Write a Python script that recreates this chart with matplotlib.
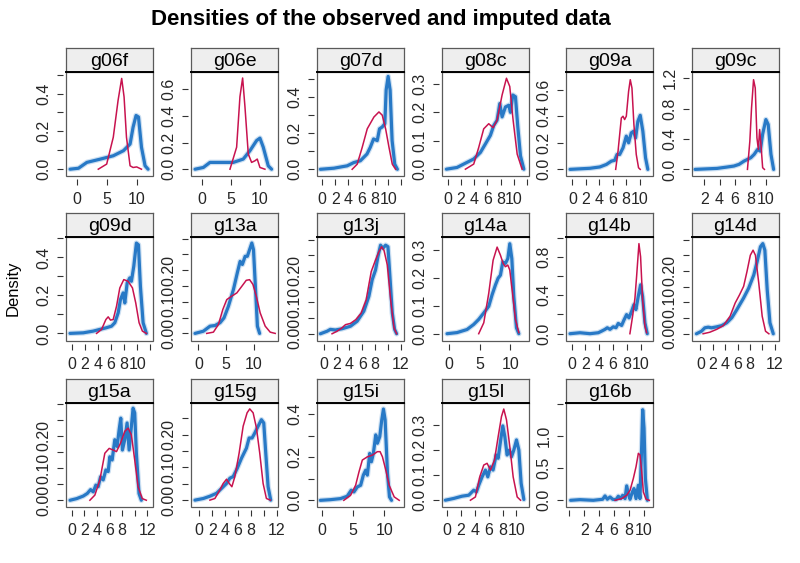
import matplotlib
matplotlib.use('Agg')
import matplotlib.pyplot as plt
from matplotlib.patches import Rectangle

plt.rcParams['font.family'] = ['Liberation Sans', 'DejaVu Sans']

# ---------------- data ----------------
variables = ['g06f', 'g06e', 'g07d', 'g08c', 'g09a', 'g09c',
             'g09d', 'g13a', 'g13j', 'g14a', 'g14b', 'g14d',
             'g15a', 'g15g', 'g15i', 'g15l', 'g16b']

g06f_obs_x = [-1.1, 0.3, 1.7, 3.9, 6.1, 7.8, 8.9, 9.4, 9.9, 10.3, 10.8, 11.4, 11.9]
g06f_obs_y = [0, 0.005, 0.036, 0.053, 0.071, 0.098, 0.133, 0.222, 0.284, 0.276, 0.116, 0.018, 0]
g06f_imp_x = [3.6, 5.0, 6.1, 6.9, 7.5, 7.9, 8.3, 8.9, 9.4, 10.0, 10.8]
g06f_imp_y = [0, 0.027, 0.169, 0.364, 0.48, 0.382, 0.169, 0.018, 0.009, 0.012, 0]

g06e_obs_x = [-1.14, 0.29, 1.43, 5.43, 7.14, 8.29, 9.43, 10.0, 10.57, 11.43, 12.0]
g06e_obs_y = [0, 0.013, 0.051, 0.051, 0.076, 0.139, 0.215, 0.233, 0.165, 0.025, 0]
g06e_imp_x = [4.86, 6.0, 6.57, 7.03, 7.43, 8.0, 8.57, 9.14, 9.54, 10.0, 10.86]
g06e_imp_y = [0, 0.165, 0.544, 0.684, 0.468, 0.114, 0.051, 0.063, 0.076, 0.013, 0]

g07d_obs_x = [-0.25, 1.8, 3.8, 4.8, 5.8, 6.8, 7.3, 7.8, 8.35, 8.7, 9.1, 9.5, 9.7, 10.0, 10.3, 10.6, 11.0, 11.4]
g07d_obs_y = [0, 0.006, 0.019, 0.037, 0.047, 0.084, 0.121, 0.167, 0.158, 0.223, 0.233, 0.251, 0.437, 0.512, 0.437, 0.158, 0.028, 0]
g07d_imp_x = [4.56, 5.32, 6.08, 6.84, 7.85, 8.61, 9.11, 9.62, 10.13, 10.63, 11.14]
g07d_imp_y = [0, 0.028, 0.121, 0.223, 0.288, 0.316, 0.298, 0.223, 0.121, 0.028, 0]

g08c_obs_x = [-0.2, 1.41, 2.93, 3.94, 4.95, 5.71, 6.46, 6.97, 7.47, 7.88, 8.23, 8.74, 9.24, 9.49, 9.85, 10.25, 10.61, 11.01, 11.52]
g08c_obs_y = [0, 0.006, 0.024, 0.036, 0.059, 0.089, 0.119, 0.154, 0.172, 0.231, 0.184, 0.219, 0.225, 0.2, 0.261, 0.255, 0.148, 0.047, 0]
g08c_imp_x = [2.68, 3.94, 4.7, 5.45, 6.21, 6.87, 7.47, 8.23, 8.89, 9.39, 9.9, 10.51, 11.26]
g08c_imp_y = [0, 0.018, 0.077, 0.142, 0.16, 0.146, 0.172, 0.261, 0.32, 0.291, 0.172, 0.053, 0]

g09a_obs_x = [-0.34, 2.61, 4.09, 5.07, 5.81, 6.3, 6.65, 7.04, 7.54, 8.03, 8.37, 8.77, 9.11, 9.41, 9.75, 10.1, 10.49, 10.89, 11.23]
g09a_obs_y = [0, 0.008, 0.018, 0.037, 0.062, 0.068, 0.112, 0.112, 0.162, 0.25, 0.2, 0.275, 0.287, 0.237, 0.362, 0.407, 0.287, 0.087, 0]
g09a_imp_x = [6.45, 6.8, 7.29, 7.54, 7.78, 8.03, 8.37, 8.62, 8.87, 9.16, 9.51, 9.85, 10.1]
g09a_imp_y = [0, 0.137, 0.387, 0.4, 0.375, 0.4, 0.587, 0.675, 0.612, 0.337, 0.112, 0.012, 0]

g09c_obs_x = [0.82, 3.67, 4.98, 5.86, 6.52, 7.17, 7.61, 8.04, 8.48, 8.92, 9.27, 9.57, 10.0, 10.3, 10.66, 11.0]
g09c_obs_y = [0, 0.013, 0.031, 0.044, 0.066, 0.109, 0.131, 0.153, 0.197, 0.262, 0.24, 0.459, 0.655, 0.59, 0.197, 0]
g09c_imp_x = [7.61, 7.92, 8.14, 8.4, 8.62, 8.84, 9.02, 9.19, 9.36, 9.58, 9.81]
g09c_imp_y = [0, 0.371, 0.808, 1.179, 1.07, 0.415, 0.262, 0.524, 0.328, 0.022, 0]

g09d_obs_x = [-0.25, 1.77, 3.29, 4.3, 5.32, 6.08, 6.58, 7.09, 7.44, 7.85, 8.1, 8.46, 8.86, 9.11, 9.47, 9.87, 10.18, 10.48, 10.89, 11.39]
g09d_obs_y = [0, 0.003, 0.012, 0.021, 0.03, 0.038, 0.056, 0.108, 0.178, 0.213, 0.16, 0.265, 0.292, 0.274, 0.353, 0.475, 0.466, 0.248, 0.056, 0]
g09d_imp_x = [3.8, 4.56, 5.22, 5.57, 5.92, 6.33, 6.84, 7.34, 7.95, 8.61, 9.27, 9.77, 10.28, 10.78, 11.39]
g09d_imp_y = [0, 0.021, 0.073, 0.087, 0.07, 0.073, 0.143, 0.239, 0.283, 0.274, 0.239, 0.16, 0.056, 0.012, 0]

g13a_obs_x = [-0.6, 0.9, 2.1, 3.0, 3.9, 4.6, 5.4, 6.3, 7.0, 7.5, 7.9, 8.4, 8.8, 9.2, 9.6, 9.9, 10.3, 10.6, 11.0]
g13a_obs_y = [0, 0.007, 0.023, 0.025, 0.034, 0.049, 0.086, 0.139, 0.192, 0.228, 0.218, 0.244, 0.244, 0.265, 0.286, 0.265, 0.128, 0.023, 0]
g13a_imp_x = [1.5, 2.7, 3.6, 4.4, 5.1, 6.0, 6.9, 7.8, 8.6, 9.2, 9.8, 10.4, 11.1, 12.0, 12.9, 13.8]
g13a_imp_y = [0, 0.004, 0.028, 0.076, 0.107, 0.118, 0.128, 0.149, 0.168, 0.17, 0.155, 0.118, 0.065, 0.023, 0.004, 0]

g13j_obs_x = [-0.52, 0.52, 1.04, 1.82, 2.86, 4.17, 5.21, 6.25, 7.03, 7.55, 8.07, 8.44, 8.85, 9.22, 9.64, 10.0, 10.31, 10.68, 11.04, 11.35]
g13j_obs_y = [0, 0.008, 0.014, 0.012, 0.016, 0.024, 0.04, 0.072, 0.119, 0.172, 0.203, 0.245, 0.282, 0.272, 0.282, 0.277, 0.182, 0.066, 0.014, 0]
g13j_imp_x = [1.3, 2.08, 2.86, 3.39, 4.17, 5.0, 5.83, 6.61, 7.4, 8.07, 8.59, 9.01, 9.38, 9.9, 10.42, 10.94, 11.35]
g13j_imp_y = [0, 0.008, 0.019, 0.029, 0.033, 0.045, 0.066, 0.108, 0.198, 0.235, 0.261, 0.277, 0.266, 0.219, 0.108, 0.019, 0]

g14a_obs_x = [-0.27, 1.35, 2.97, 4.05, 4.86, 5.68, 6.49, 7.03, 7.57, 8.0, 8.38, 8.76, 9.19, 9.57, 9.89, 10.22, 10.54, 10.97, 11.35]
g14a_obs_y = [0, 0.004, 0.015, 0.033, 0.051, 0.074, 0.098, 0.139, 0.174, 0.198, 0.209, 0.256, 0.251, 0.268, 0.321, 0.268, 0.133, 0.021, 0]
g14a_imp_x = [4.86, 5.68, 6.49, 7.19, 7.84, 8.38, 8.81, 9.19, 9.57, 9.89, 10.27, 10.81, 11.35]
g14a_imp_y = [0, 0.039, 0.145, 0.262, 0.309, 0.28, 0.251, 0.239, 0.245, 0.227, 0.156, 0.051, 0.004]

g14b_obs_x = [-0.24, 1.21, 2.66, 3.86, 4.35, 4.83, 5.17, 5.56, 6.04, 6.43, 6.76, 7.25, 7.58, 7.97, 8.31, 8.7, 9.03, 9.32, 9.66, 10.0, 10.29, 10.63, 10.97]
g14b_obs_y = [0, 0.01, 0, 0.01, 0.027, 0.045, 0.062, 0.045, 0.072, 0.062, 0.107, 0.086, 0.141, 0.199, 0.165, 0.234, 0.302, 0.251, 0.388, 0.509, 0.388, 0.113, 0]
g14b_imp_x = [8.45, 8.84, 9.18, 9.42, 9.76, 10.0, 10.29, 10.63, 10.87]
g14b_imp_y = [0, 0.182, 0.371, 0.595, 0.938, 0.801, 0.354, 0.079, 0.01]

g14d_obs_x = [-0.65, 0.16, 0.71, 1.25, 1.79, 2.61, 3.42, 4.24, 5.05, 5.87, 6.96, 7.77, 8.59, 9.13, 9.67, 10.05, 10.38, 10.76, 11.2, 11.74]
g14d_obs_y = [0, 0.008, 0.019, 0.021, 0.019, 0.022, 0.026, 0.035, 0.051, 0.077, 0.114, 0.145, 0.187, 0.229, 0.277, 0.287, 0.266, 0.14, 0.035, 0]
g14d_imp_x = [0.43, 1.52, 2.61, 3.7, 4.78, 5.6, 6.3, 6.96, 7.5, 8.04, 8.48, 8.86, 9.4, 9.95, 10.49, 11.03]
g14d_imp_y = [0, 0.005, 0.014, 0.026, 0.056, 0.098, 0.124, 0.151, 0.198, 0.25, 0.266, 0.25, 0.161, 0.056, 0.008, 0]

g15a_obs_x = [-0.26, 0.79, 1.84, 2.47, 3.0, 3.42, 3.84, 4.21, 4.58, 5.0, 5.42, 5.79, 6.05, 6.42, 6.84, 7.21, 7.53, 7.79, 8.05, 8.42, 8.79, 9.11, 9.47, 9.74, 10.0, 10.26, 10.68, 11.05]
g15a_obs_y = [0, 0.005, 0.013, 0.021, 0.033, 0.026, 0.047, 0.042, 0.073, 0.063, 0.094, 0.089, 0.135, 0.125, 0.188, 0.167, 0.219, 0.255, 0.156, 0.188, 0.24, 0.156, 0.229, 0.286, 0.271, 0.146, 0.021, 0]
g15a_imp_x = [2.89, 3.68, 4.47, 5.26, 5.95, 6.58, 7.11, 7.74, 8.42, 8.95, 9.47, 10.0, 10.53, 11.21, 11.84]
g15a_imp_y = [0, 0.016, 0.063, 0.146, 0.161, 0.156, 0.151, 0.177, 0.214, 0.224, 0.203, 0.125, 0.042, 0.005, 0]

g15g_obs_x = [-0.67, 0.62, 1.64, 2.67, 3.44, 4.21, 4.72, 5.23, 5.85, 6.51, 7.28, 7.69, 8.15, 8.56, 9.08, 9.59, 9.95, 10.26, 10.62, 11.03]
g15g_obs_y = [0, 0.005, 0.012, 0.021, 0.036, 0.051, 0.067, 0.072, 0.097, 0.128, 0.159, 0.19, 0.19, 0.205, 0.226, 0.246, 0.236, 0.144, 0.041, 0]
g15g_imp_x = [1.64, 2.41, 3.18, 3.69, 4.21, 4.62, 5.03, 5.49, 6.15, 6.77, 7.38, 7.79, 8.31, 8.82, 9.33, 9.85, 10.36, 10.97]
g15g_imp_y = [0, 0.005, 0.031, 0.051, 0.064, 0.051, 0.041, 0.072, 0.144, 0.226, 0.267, 0.279, 0.267, 0.221, 0.144, 0.051, 0.005, 0]

g15i_obs_x = [-0.27, 1.35, 2.97, 4.05, 4.7, 5.14, 5.68, 6.22, 6.65, 7.03, 7.3, 7.68, 7.95, 8.27, 8.65, 8.92, 9.3, 9.62, 9.89, 10.16, 10.54, 10.86, 11.19]
g15i_obs_y = [0, 0.003, 0.008, 0.019, 0.047, 0.039, 0.062, 0.07, 0.117, 0.14, 0.117, 0.218, 0.179, 0.218, 0.304, 0.265, 0.296, 0.374, 0.424, 0.374, 0.125, 0.016, 0]
g15i_imp_x = [3.51, 4.59, 5.41, 5.95, 6.49, 7.3, 8.11, 8.92, 9.35, 9.73, 10.27, 10.81, 11.62, 12.43]
g15i_imp_y = [0, 0.023, 0.07, 0.132, 0.187, 0.202, 0.21, 0.226, 0.226, 0.202, 0.14, 0.07, 0.016, 0]

g15l_obs_x = [-0.24, 0.96, 2.16, 3.13, 3.85, 4.23, 4.57, 5.05, 5.53, 5.87, 6.25, 6.63, 7.07, 7.36, 7.69, 8.03, 8.32, 8.65, 8.99, 9.28, 9.62, 10.0, 10.34, 10.67, 11.06]
g15l_obs_y = [0, 0.007, 0.016, 0.02, 0.04, 0.033, 0.06, 0.093, 0.12, 0.093, 0.133, 0.12, 0.18, 0.167, 0.233, 0.296, 0.253, 0.18, 0.2, 0.173, 0.2, 0.24, 0.2, 0.067, 0.003]
g15l_imp_x = [3.37, 4.09, 4.71, 5.29, 5.77, 6.25, 6.83, 7.36, 7.84, 8.17, 8.56, 9.04, 9.52, 10.1, 10.58]
g15l_imp_y = [0, 0.013, 0.093, 0.14, 0.147, 0.12, 0.16, 0.253, 0.333, 0.363, 0.32, 0.213, 0.093, 0.013, 0]

g16b_obs_x = [0.18, 1.43, 3.21, 4.46, 4.78, 5.09, 5.45, 5.8, 6.25, 6.56, 6.87, 7.14, 7.46, 7.68, 7.95, 8.13, 8.44, 8.66, 8.93, 9.24, 9.46, 9.69, 9.82, 10.0, 10.18, 10.45]
g16b_obs_y = [0, 0.01, 0, 0.016, 0.068, 0.016, 0.052, 0.016, 0.01, 0.063, 0.026, 0.078, 0.026, 0.224, 0.078, 0.016, 0.13, 0.182, 0.026, 0.234, 0.026, 0.859, 1.406, 1.12, 0.339, 0]
g16b_imp_x = [6.12, 7.01, 7.68, 8.13, 8.57, 8.93, 9.24, 9.46, 9.69, 9.91, 10.27, 10.71]
g16b_imp_y = [0, 0.026, 0.078, 0.156, 0.339, 0.521, 0.729, 0.703, 0.443, 0.13, 0.016, 0]

# axis ticks and the tick labels that are shown (others blank)
x_ticks = {
    'g06f': ([0, 5, 10], ['0', '5', '10']),
    'g06e': ([0, 5, 10], ['0', '5', '10']),
    'g07d': ([0, 2, 4, 6, 8, 10, 12], ['0', '2', '4', '6', '8', '10', '']),
    'g08c': ([0, 2, 4, 6, 8, 10, 12], ['0', '2', '4', '6', '8', '10', '']),
    'g09a': ([0, 2, 4, 6, 8, 10], ['0', '2', '4', '6', '8', '10']),
    'g09c': ([2, 4, 6, 8, 10], ['2', '4', '6', '8', '10']),
    'g09d': ([0, 2, 4, 6, 8, 10, 12], ['0', '2', '4', '6', '8', '10', '']),
    'g13a': ([0, 5, 10], ['0', '5', '10']),
    'g13j': ([0, 2, 4, 6, 8, 10, 12], ['0', '2', '4', '6', '8', '', '12']),
    'g14a': ([0, 5, 10], ['0', '5', '10']),
    'g14b': ([0, 2, 4, 6, 8, 10], ['0', '2', '4', '6', '8', '10']),
    'g14d': ([0, 2, 4, 6, 8, 10, 12], ['0', '2', '4', '6', '8', '', '12']),
    'g15a': ([0, 2, 4, 6, 8, 10, 12], ['0', '2', '4', '6', '8', '', '12']),
    'g15g': ([0, 2, 4, 6, 8, 10, 12], ['0', '2', '4', '6', '8', '', '12']),
    'g15i': ([0, 5, 10], ['0', '5', '10']),
    'g15l': ([0, 2, 4, 6, 8, 10], ['0', '2', '4', '6', '8', '10']),
    'g16b': ([0, 2, 4, 6, 8, 10], ['', '2', '4', '6', '8', '10']),
}
y_ticks = {
    'g06f': ([0, 0.1, 0.2, 0.3, 0.4, 0.5], ['0.0', '', '0.2', '', '0.4', '']),
    'g06e': ([0, 0.2, 0.4, 0.6], ['0.0', '0.2', '0.4', '0.6']),
    'g07d': ([0, 0.1, 0.2, 0.3, 0.4, 0.5], ['0.0', '', '0.2', '', '0.4', '']),
    'g08c': ([0, 0.1, 0.2, 0.3], ['0.0', '0.1', '0.2', '0.3']),
    'g09a': ([0, 0.2, 0.4, 0.6], ['0.0', '0.2', '0.4', '0.6']),
    'g09c': ([0, 0.4, 0.8, 1.2], ['0.0', '0.4', '0.8', '1.2']),
    'g09d': ([0, 0.1, 0.2, 0.3, 0.4, 0.5], ['0.0', '', '0.2', '', '0.4', '']),
    'g13a': ([0, 0.05, 0.1, 0.15, 0.2, 0.25, 0.3], ['0.00', '', '0.10', '', '0.20', '', '']),
    'g13j': ([0, 0.05, 0.1, 0.15, 0.2, 0.25, 0.3], ['0.00', '', '0.10', '', '0.20', '', '']),
    'g14a': ([0, 0.1, 0.2, 0.3], ['0.0', '0.1', '0.2', '0.3']),
    'g14b': ([0, 0.2, 0.4, 0.6, 0.8, 1.0], ['0.0', '', '0.4', '', '0.8', '']),
    'g14d': ([0, 0.05, 0.1, 0.15, 0.2, 0.25, 0.3], ['0.00', '', '0.10', '', '0.20', '', '']),
    'g15a': ([0, 0.05, 0.1, 0.15, 0.2, 0.25, 0.3], ['0.00', '', '0.10', '', '0.20', '', '']),
    'g15g': ([0, 0.05, 0.1, 0.15, 0.2, 0.25], ['0.00', '', '0.10', '', '0.20', '']),
    'g15i': ([0, 0.1, 0.2, 0.3, 0.4], ['0.0', '', '0.2', '', '0.4']),
    'g15l': ([0, 0.1, 0.2, 0.3], ['0.0', '0.1', '0.2', '0.3']),
    'g16b': ([0, 0.5, 1.0, 1.5], ['0.0', '0.5', '1.0', '']),
}

# ---------------- layout ----------------
limits = {
    'g06f': ((-1.78, 12.72), (-0.036, 0.514)),
    'g06e': ((-1.83, 13.1), (-0.051, 0.729)),
    'g07d': ((-0.76, 12.4), (-0.037, 0.536)),
    'g08c': ((-0.86, 12.3), (-0.024, 0.342)),
    'g09a': ((-0.94, 12.0), (-0.05, 0.733)),
    'g09c': ((0.42, 11.7), (-0.087, 1.28)),
    'g09d': ((-0.86, 12.4), (-0.04, 0.507)),
    'g13a': ((-1.32, 14.3), (-0.024, 0.305)),
    'g13j': ((-1.04, 12.5), (-0.023, 0.308)),
    'g14a': ((-1.08, 13.0), (-0.026, 0.345)),
    'g14b': ((-0.82, 11.8), (-0.076, 1.007)),
    'g14d': ((-1.36, 12.66), (-0.023, 0.308)),
    'g15a': ((-0.9, 12.9), (-0.021, 0.302)),
    'g15g': ((-1.28, 12.15), (-0.021, 0.297)),
    'g15i': ((-0.81, 13.2), (-0.031, 0.452)),
    'g15l': ((-0.72, 11.8), (-0.027, 0.387)),
    'g16b': ((-0.44, 11.2), (-0.104, 1.51)),
}

g = globals()
series = {v: (g[v + '_obs_x'], g[v + '_obs_y'], g[v + '_imp_x'], g[v + '_imp_y'])
          for v in variables}

W, H = 800, 563
fig = plt.figure(figsize=(8, 5.63), dpi=100)
fig.patch.set_facecolor('white')

col_left = [66, 191, 317, 442, 566, 692]
row_top = [72, 237, 403]
pw, ph, sh = 87, 104, 24

BLUE = '#1f74c4'
RED = '#c8134f'
BOX = '#5a5a5a'
TXT = '#262626'

for i, v in enumerate(variables):
    r, c = divmod(i, 6)
    l, t = col_left[c], row_top[r]
    ax = fig.add_axes([l / W, 1 - (t + ph) / H, pw / W, ph / H])
    ox, oy, ix, iy = series[v]
    ax.plot(ox, oy, color=BLUE, lw=4.0, alpha=0.22, solid_joinstyle='round', solid_capstyle='round')
    ax.plot(ox, oy, color=BLUE, lw=2.3, alpha=0.95, solid_joinstyle='round', solid_capstyle='round')
    ax.plot(ix, iy, color=RED, lw=1.1, solid_joinstyle='round')
    xl, yl = limits[v]
    ax.set_xlim(*xl)
    ax.set_ylim(*yl)
    xt, xlab = x_ticks[v]
    yt, ylab = y_ticks[v]
    ax.set_xticks(xt)
    ax.set_xticklabels(xlab)
    ax.set_yticks(yt)
    ax.set_yticklabels(ylab)
    for s in ax.spines.values():
        s.set_visible(False)
    ax.spines['left'].set_position(('outward', 2.5))
    ax.spines['bottom'].set_position(('outward', 2.5))
    ax.tick_params(axis='both', direction='out', length=4.5, width=0.8, color='#333333',
                   labelsize=11.5, labelcolor=TXT)
    ax.tick_params(axis='x', pad=4.5)
    ax.tick_params(axis='y', pad=3.5, labelrotation=90)
    for lab in ax.get_yticklabels():
        lab.set_verticalalignment('center')
        lab.set_horizontalalignment('right')
    ax.add_patch(Rectangle((0, 0), 1, 1, transform=ax.transAxes, fill=False,
                           ec=BOX, lw=0.9, clip_on=False, zorder=5))
    # strip
    sax = fig.add_axes([l / W, 1 - t / H, pw / W, sh / H])
    sax.set_facecolor('#eeeeee')
    sax.set_xticks([])
    sax.set_yticks([])
    for s in sax.spines.values():
        s.set_color(BOX)
        s.set_linewidth(0.9)
    sax.spines['bottom'].set_color('black')
    sax.spines['bottom'].set_linewidth(1.4)
    sax.text(0.5, 0.45, v, ha='center', va='center', fontsize=14, color='black',
             transform=sax.transAxes)

fig.text(381 / W, 1 - 20 / H, 'Densities of the observed and imputed data',
         ha='center', va='center', fontsize=16, fontweight='bold')
fig.text(13 / W, 1 - 288 / H, 'Density', rotation=90, ha='center', va='center',
         fontsize=12)

fig.savefig('out.png', dpi=100)
